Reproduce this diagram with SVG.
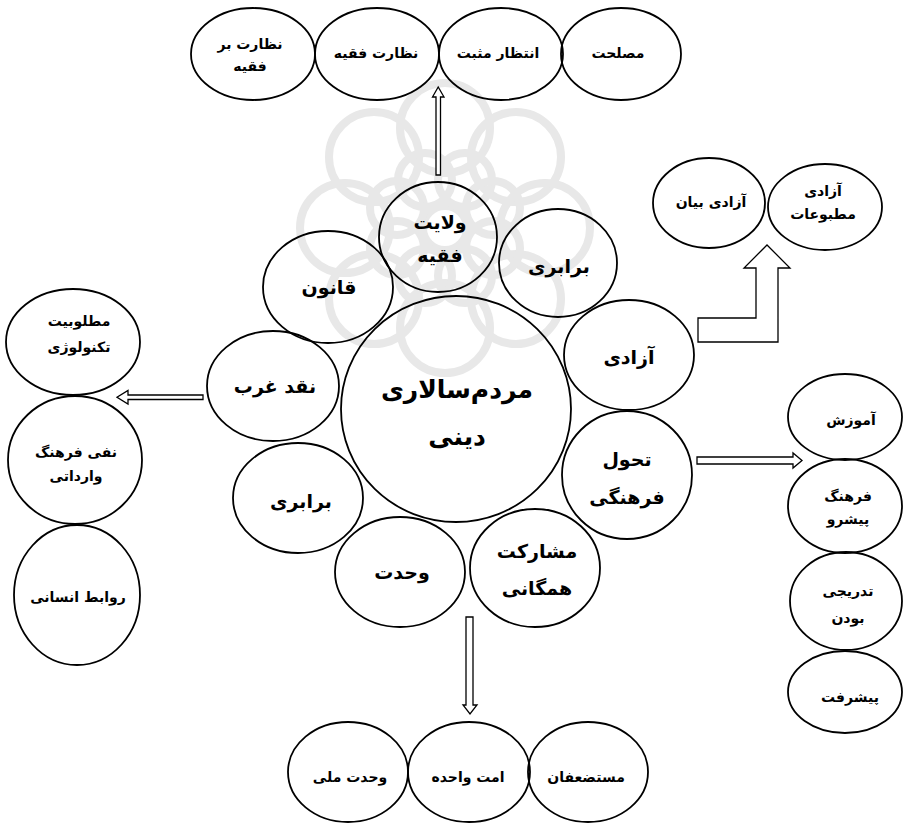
<svg xmlns="http://www.w3.org/2000/svg" width="903" height="828" viewBox="0 0 903 828">
  <style>
    .n { fill: none; stroke: #000; stroke-width: 1.8; }
    .a { fill: #fff; stroke: #000; stroke-width: 1.3; stroke-linejoin: miter; }
    .t { font-family: "DejaVu Sans", "Noto Sans", sans-serif; font-weight: bold; text-anchor: middle; dominant-baseline: central; fill: #000; }
    .s { font-size: 14px; }
    .m { font-size: 19px; }
    .l { font-size: 25px; }
    .wm { fill: none; stroke: #e8e8e8; stroke-width: 8; }
  </style>

  <rect width="903" height="828" fill="#fff"/>

  <!-- faint background emblem -->
  <g id="emblem" transform="translate(445,228)">
    <circle class="wm" r="22"/>
    <circle class="wm" cx="0" cy="-100" r="45"/>
    <circle class="wm" cx="71" cy="-71" r="45"/>
    <circle class="wm" cx="100" cy="0" r="45"/>
    <circle class="wm" cx="71" cy="71" r="45"/>
    <circle class="wm" cx="0" cy="100" r="45"/>
    <circle class="wm" cx="-71" cy="71" r="45"/>
    <circle class="wm" cx="-100" cy="0" r="45"/>
    <circle class="wm" cx="-71" cy="-71" r="45"/>
    <circle class="wm" cx="20" cy="-48" r="27"/>
    <circle class="wm" cx="48" cy="-20" r="27"/>
    <circle class="wm" cx="48" cy="20" r="27"/>
    <circle class="wm" cx="20" cy="48" r="27"/>
    <circle class="wm" cx="-20" cy="48" r="27"/>
    <circle class="wm" cx="-48" cy="20" r="27"/>
    <circle class="wm" cx="-48" cy="-20" r="27"/>
    <circle class="wm" cx="-20" cy="-48" r="27"/>
  </g>

  <!-- connectors -->
  <g id="connectors">
    <!-- up: ولایت فقیه to the top row -->
    <polygon class="a" points="436,175 436,97 432.5,97 438.2,87 444,97 440.5,97 440.5,175"/>
    <!-- left: نقد غرب to the left column -->
    <polygon class="a" points="203,395 128,395 128,390.5 117,397.2 128,404 128,399.5 203,399.5"/>
    <!-- right: تحول فرهنگی to the right column -->
    <polygon class="a" points="697,457 793,457 793,453 802,460.5 793,468 793,464 697,464"/>
    <!-- down: to the bottom row -->
    <polygon class="a" points="466,617 473,617 473,705 477,705 470,714 463,705 466,705"/>
    <!-- bent block arrow: آزادی to the upper right pair -->
    <polygon class="a" points="698,318 756,318 756,268 744,268 767,245 790,268 778,268 778,342 698,342"/>
  </g>

  <!-- central node -->
  <g id="node-center">
    <ellipse class="n" cx="456" cy="409" rx="115" ry="113"/>
    <text class="t l" x="457" y="389">مردم‌سالاری</text>
    <text class="t l" x="457" y="436">دینی</text>
  </g>

  <!-- ring around the centre -->
  <g id="node-velayat">
    <ellipse class="n" cx="438" cy="237" rx="59" ry="55"/>
    <text class="t m" x="440" y="222">ولایت</text>
    <text class="t m" x="440" y="255">فقیه</text>
  </g>
  <g id="node-barabari-top">
    <ellipse class="n" cx="558" cy="263" rx="59" ry="54"/>
    <text class="t m" x="559" y="266">برابری</text>
  </g>
  <g id="node-ghanoon">
    <ellipse class="n" cx="328" cy="287" rx="65" ry="56"/>
    <text class="t m" x="329" y="287">قانون</text>
  </g>
  <g id="node-naghd">
    <ellipse class="n" cx="273" cy="386" rx="66" ry="55"/>
    <text class="t m" x="275" y="386">نقد غرب</text>
  </g>
  <g id="node-azadi">
    <ellipse class="n" cx="629" cy="355" rx="65" ry="55"/>
    <text class="t m" x="629" y="357">آزادی</text>
  </g>
  <g id="node-tahavol">
    <ellipse class="n" cx="627" cy="475" rx="65" ry="64"/>
    <text class="t m" x="627" y="459">تحول</text>
    <text class="t m" x="627" y="497">فرهنگی</text>
  </g>
  <g id="node-barabari-bottom">
    <ellipse class="n" cx="298" cy="498" rx="65" ry="55"/>
    <text class="t m" x="301" y="501">برابری</text>
  </g>
  <g id="node-vahdat">
    <ellipse class="n" cx="400" cy="572" rx="65" ry="55"/>
    <text class="t m" x="402" y="572">وحدت</text>
  </g>
  <g id="node-mosharekat">
    <ellipse class="n" cx="535" cy="568" rx="65" ry="59"/>
    <text class="t m" x="537" y="551">مشارکت</text>
    <text class="t m" x="537" y="588">همگانی</text>
  </g>

  <!-- top row -->
  <g id="node-nezarat-bar">
    <ellipse class="n" cx="253" cy="54" rx="62" ry="46"/>
    <text class="t s" x="250" y="44">نظارت بر</text>
    <text class="t s" x="250" y="66">فقیه</text>
  </g>
  <g id="node-nezarat">
    <ellipse class="n" cx="377" cy="54" rx="62" ry="46"/>
    <text class="t s" x="376" y="53">نظارت فقیه</text>
  </g>
  <g id="node-entezar">
    <ellipse class="n" cx="501" cy="54" rx="62" ry="46"/>
    <text class="t s" x="498" y="53">انتظار مثبت</text>
  </g>
  <g id="node-maslahat">
    <ellipse class="n" cx="621" cy="54" rx="60" ry="46"/>
    <text class="t s" x="618" y="53">مصلحت</text>
  </g>

  <!-- upper right pair -->
  <g id="node-azadi-bayan">
    <ellipse class="n" cx="709" cy="203" rx="56" ry="45"/>
    <text class="t s" x="711" y="202">آزادی بیان</text>
  </g>
  <g id="node-azadi-matbooat">
    <ellipse class="n" cx="825" cy="207" rx="57" ry="43"/>
    <text class="t s" x="823" y="191">آزادی</text>
    <text class="t s" x="823" y="214">مطبوعات</text>
  </g>

  <!-- left column -->
  <g id="node-technology">
    <ellipse class="n" cx="73" cy="342" rx="67" ry="53"/>
    <text class="t s" x="79" y="321">مطلوبیت</text>
    <text class="t s" x="79" y="347">تکنولوژی</text>
  </g>
  <g id="node-farhang-vardati">
    <ellipse class="n" cx="75" cy="460" rx="67" ry="64"/>
    <text class="t s" x="76" y="452">نفی فرهنگ</text>
    <text class="t s" x="76" y="476">وارداتی</text>
  </g>
  <g id="node-ravabet">
    <ellipse class="n" cx="77" cy="595" rx="63" ry="70"/>
    <text class="t s" x="78" y="597">روابط انسانی</text>
  </g>

  <!-- right column -->
  <g id="node-amoozesh">
    <ellipse class="n" cx="845" cy="417" rx="57" ry="43"/>
    <text class="t s" x="851" y="420">آموزش</text>
  </g>
  <g id="node-farhang-pishro">
    <ellipse class="n" cx="845" cy="506" rx="57" ry="47"/>
    <text class="t s" x="848" y="496">فرهنگ</text>
    <text class="t s" x="848" y="519">پیشرو</text>
  </g>
  <g id="node-tadriji">
    <ellipse class="n" cx="846" cy="601" rx="56" ry="49"/>
    <text class="t s" x="848" y="591">تدریجی</text>
    <text class="t s" x="848" y="618">بودن</text>
  </g>
  <g id="node-pishraft">
    <ellipse class="n" cx="845" cy="692" rx="57" ry="41"/>
    <text class="t s" x="850" y="697">پیشرفت</text>
  </g>

  <!-- bottom row -->
  <g id="node-vahdat-melli">
    <ellipse class="n" cx="348" cy="772" rx="60" ry="50"/>
    <text class="t s" x="350" y="777">وحدت ملی</text>
  </g>
  <g id="node-ommat">
    <ellipse class="n" cx="469" cy="772" rx="61" ry="50"/>
    <text class="t s" x="468" y="777">امت واحده</text>
  </g>
  <g id="node-mostazafan">
    <ellipse class="n" cx="588" cy="772" rx="60" ry="50"/>
    <text class="t s" x="586" y="777">مستضعفان</text>
  </g>
</svg>
